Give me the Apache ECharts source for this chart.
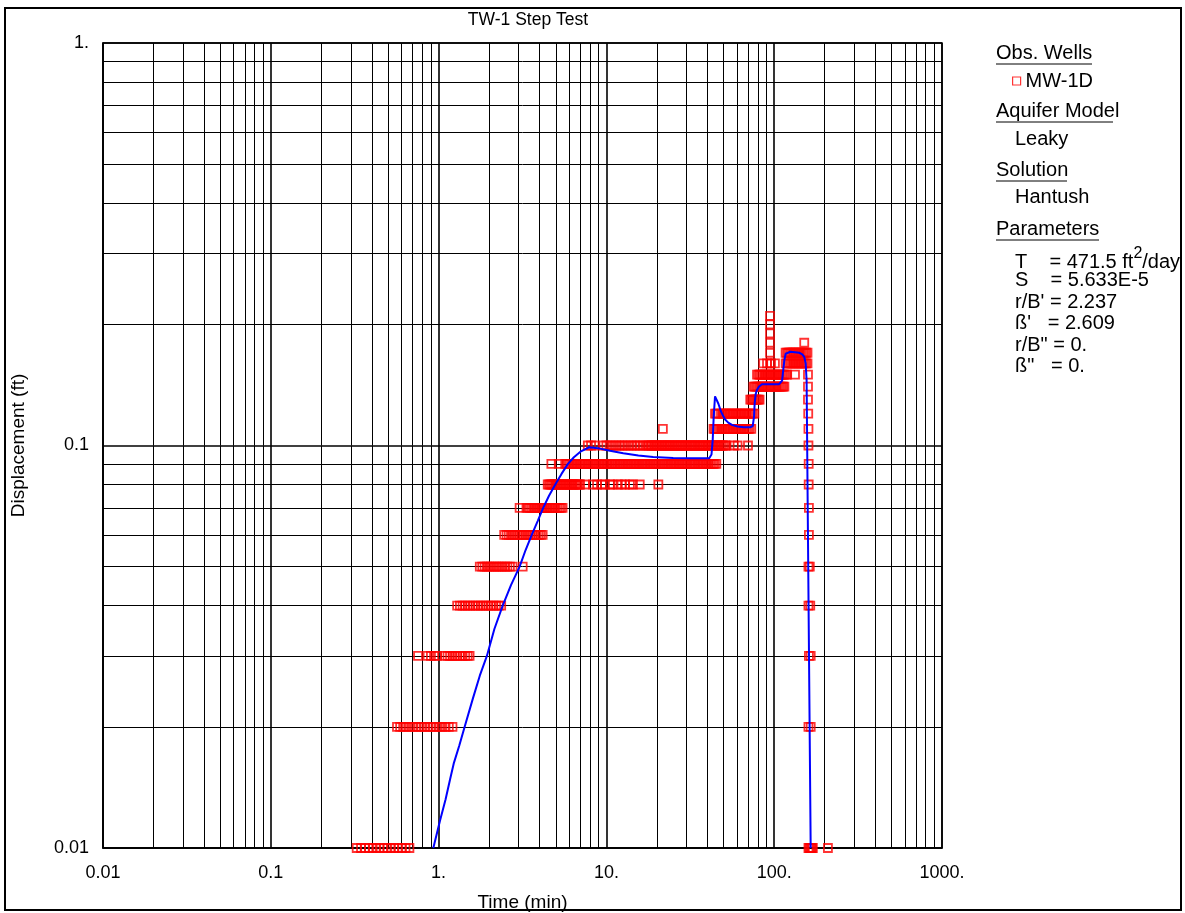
<!DOCTYPE html>
<html><head><meta charset="utf-8">
<script src="https://cdn.jsdelivr.net/npm/echarts@6/dist/echarts.min.js"></script>
<style>html,body{margin:0;padding:0;background:#fff}#c{width:1185px;height:913px}</style>
</head><body><div id="c"></div>
<script>
const FONT = '"Liberation Sans", Arial, Helvetica, sans-serif';

// ---- Observation well MW-1D: elapsed time (min) for each recorded displacement level (ft) ----
const t001 = [0.325,0.345,0.365,0.385,0.405,0.425,0.445,0.47,0.495,0.52,0.545,0.575,0.605,0.635,0.67,160,162,164,166,168,170,209];
const t002 = [0.565,0.59,0.615,0.64,0.67,0.70,0.73,0.76,0.79,0.825,0.86,0.895,0.93,0.97,1.01,1.05,1.10,1.15,1.21,160,165];
const t003 = [0.754,0.86,0.90,0.94,0.98,1.09,1.13,1.17,1.21,1.25,1.29,1.34,1.39,1.44,1.49,1.53,161,165];
const t004 = [1.29,1.34,1.39,1.44,1.49,1.54,1.60,1.66,1.72,1.78,1.84,1.91,1.98,2.05,2.12,2.20,2.28,2.36,160,164];
const t005 = [1.76,1.82,1.88,1.94,2.00,2.06,2.13,2.20,2.27,2.34,2.41,2.49,2.57,2.66,2.76,3.17,160,163];
const t006 = [2.46,2.54,2.62,2.70,2.78,2.86,2.95,3.04,3.13,3.22,3.32,3.42,3.52,3.63,3.74,3.85,3.96,4.07,4.17,161];
const t007 = [3.04,3.34,3.42,3.50,3.58,3.66,3.74,3.82,3.91,4.00,4.09,4.18,4.27,4.37,4.47,4.57,4.67,4.78,4.89,5.00,5.12,5.24,5.36,5.48,161];
const t008 = [4.47,4.56,4.65,4.74,4.84,4.94,5.04,5.14,5.25,5.36,5.47,5.58,5.70,5.82,5.94,6.06,6.19,6.32,6.45,6.58,6.72,6.86,6.97,
  7.46,8.32,8.8,9.4,9.8,10.5,10.85,11.7,12.3,12.9,13.8,14.4,15.8,20.4,160.5];
const t009 = [4.7,5.2,5.68,5.80,5.92,6.05,6.18,6.32,6.46,6.60,6.75,6.90,7.05,7.20,7.36,7.52,7.69,7.86,8.03,8.21,8.39,8.58,8.77,8.96,
  9.16,9.36,9.57,9.78,10.0,10.2,10.45,10.7,10.9,11.15,11.4,11.65,11.9,12.15,12.4,12.7,13.0,13.3,13.6,13.9,14.2,14.5,14.8,15.1,
  15.45,15.8,16.15,16.5,16.85,17.2,17.6,18.0,18.4,18.8,19.2,19.6,20.0,20.5,21.0,21.5,22.0,22.5,23.0,23.5,24.0,24.5,25.0,25.6,
  26.2,26.8,27.4,28.0,28.6,29.2,29.8,30.5,31.2,31.9,32.6,33.3,34.0,34.8,35.6,36.4,37.2,38.0,38.8,39.7,40.6,41.5,42.4,43.3,44.2,
  45.2,160.5];
const t010 = [7.75,8.1,8.5,9.6,10.0,10.45,10.9,11.4,11.9,12.4,12.9,13.5,14.1,14.7,15.3,15.9,16.6,17.4,17.8,18.2,18.6,19.0,19.4,
  19.8,20.2,20.7,21.2,21.7,22.2,22.7,23.2,23.7,24.2,24.8,25.4,26.0,26.6,27.2,27.8,28.4,29.1,29.8,30.5,31.2,31.9,32.6,33.3,34.1,
  34.9,35.7,36.5,37.3,38.1,39.0,39.9,40.8,41.7,42.6,43.6,44.6,45.6,46.6,47.6,48.7,49.8,50.9,52.0,57.5,60.5,69.8,160];
const t011 = [21.7,43.5,44.4,45.3,46.2,47.2,48.2,49.3,50.4,51.5,52.6,53.8,55.0,56.2,57.4,58.7,60.0,61.3,62.6,64.0,65.4,66.8,68.3,
  69.8,71.3,73.0,160];
const t012 = [44.4,45.2,46.6,48.2,49.3,50.4,51.5,52.6,53.8,55.0,56.2,57.4,58.7,60.0,61.3,62.6,64.0,65.4,66.8,68.3,69.8,71.3,72.9,
  74.5,76.2,159.5];
const t013 = [72.0,73.2,74.4,75.6,76.8,78.0,79.3,80.6,81.8,159];
const t014 = [75.2,76.7,78.2,79.7,81.3,82.9,84.5,86.2,87.9,89.6,91.4,93.2,95.0,96.9,98.8,100.7,102.7,104.7,106.8,108.9,111.0,
  113.0,115.0,159];
const t015 = [79.0,80.6,82.2,83.8,85.5,87.2,88.9,90.7,92.5,94.3,96.2,98.1,100.0,102.0,104.0,106.1,108.2,110.4,112.6,114.8,117.1,
  119.5,133,159];
const t016 = [86.0,90.6,94.4,95.7,101,117,119.5,122,124.5,127,129.5,132,134.7,137.4,140.2,143,145.9,148.8,151.8,154.8,157.9];
const t017 = [94.4,117,119.5,122,124.5,127,129.5,132,134.7,137.4,140.2,143,145.9,148.8,151.8,154.8,157.9];
const t018 = [94.4,151];
const t019 = [94.4];
const t020 = [94.4];
const t021 = [94.4];

const obsLevels = [0.01,0.02,0.03,0.04,0.05,0.06,0.07,0.08,0.09,0.10,0.11,0.12,0.13,0.14,0.15,0.16,0.17,0.18,0.19,0.20,0.21];
const obsTimes  = [t001,t002,t003,t004,t005,t006,t007,t008,t009,t010,t011,t012,t013,t014,t015,t016,t017,t018,t019,t020,t021];

// ---- Hantush leaky-aquifer type curve ----
const hantushT = [0.93,1.02,1.1,1.17,1.23,1.33,1.43,1.6,1.76,1.94,2.15,2.41,2.7,3.04,3.3,3.59,3.9,4.2,4.55,4.96,5.4,5.9,6.4,7.0,
  7.9,8.9,10.5,12.6,15.5,19,25,32,41,42.3,43.0,43.6,44.4,45.2,46.5,48,49.3,51,53.2,56,60.4,66,72,74.5,75.8,76.5,77.5,78.7,81,
  84.5,95,107,109.5,111.5,113,115,117,120,125,133,141,147,151,154,156,165];
const hantushV = [0.01,0.0117,0.0132,0.0148,0.0162,0.018,0.02,0.0235,0.0268,0.03,0.035,0.04,0.045,0.05,0.055,0.06,0.065,0.07,
  0.075,0.08,0.085,0.09,0.0935,0.0965,0.099,0.0985,0.097,0.0957,0.0945,0.0936,0.0931,0.093,0.093,0.095,0.103,0.118,0.1325,
  0.1315,0.127,0.122,0.119,0.116,0.114,0.1125,0.1115,0.111,0.111,0.1118,0.118,0.1273,0.134,0.137,0.140,0.142,0.142,0.142,
  0.1425,0.145,0.153,0.163,0.169,0.1706,0.171,0.1705,0.170,0.1685,0.166,0.16,0.145,0.01];

// ---- axis ticks ----
const xTicks = [0.01,0.1,1,10,100,1000];
const xTickLabels = ['0.01','0.1','1.','10.','100.','1000.'];
const yTicks = [0.01,0.1,1];
const yTickLabels = ['0.01','0.1','1.'];
const minorMult = [2,3,4,5,6,7,8,9];

// ---- legend text ----
const titleText = 'TW-1 Step Test';
const paramRows = ['T    = 471.5 ft', 'S    = 5.633E-5', "r/B' = 2.237", "\u00DF'   = 2.609", 'r/B" = 0.', '\u00DF"   = 0.'];

const obsData = [];
obsLevels.forEach((v, i) => obsTimes[i].forEach(t => obsData.push([t, v])));
const curve = hantushT.map((t, i) => [t, hantushV[i]]);

function labeler(ticks, labels) {
  return v => {
    for (let i = 0; i < ticks.length; i++)
      if (Math.abs(Math.log10(v) - Math.log10(ticks[i])) < 1e-6) return labels[i];
    return '';
  };
}
const xMinor = [], yMinor = [];
xTicks.slice(0, -1).forEach(d => minorMult.forEach(m => xMinor.push(+(d * m).toPrecision(3))));
yTicks.slice(0, -1).forEach(d => minorMult.forEach(m => yMinor.push(+(d * m).toPrecision(3))));

const G = {left: 103, right: 942, top: 43, bottom: 848};
const LF = 20;
const txt = (x, y, s, size, align) => ({
  type: 'text', x: x, y: y, silent: true,
  style: {text: s, fontSize: size, fontFamily: FONT, fill: '#000', align: align || 'left', verticalAlign: 'middle'}
});
const uline = (x1, x2, y) => ({type: 'line', silent: true, shape: {x1: x1, y1: y, x2: x2, y2: y}, style: {stroke: '#000', lineWidth: 1}});

const graphics = [
  {type: 'rect', silent: true, z: -10, shape: {x: 5, y: 8, width: 1176, height: 902}, style: {fill: 'none', stroke: '#000', lineWidth: 2}},
  txt(528, 20, titleText, 17.5, 'center'),
  txt(996, 53, 'Obs. Wells', LF), uline(996, 1092, 64),
  txt(996, 111, 'Aquifer Model', LF), uline(996, 1113, 122),
  txt(1015, 139, 'Leaky', LF),
  txt(996, 170, 'Solution', LF), uline(996, 1067, 181),
  txt(1015, 197, 'Hantush', LF),
  txt(996, 229, 'Parameters', LF), uline(996, 1099, 240)
];
paramRows.forEach((row, i) => {
  const y = 259 + i * 21.5;
  if (i === 0) {
    graphics.push({type: 'text', x: 1015, y: y, silent: true, style: {
      text: '{a|' + row + '}{s|2}{a|/day}', align: 'left', verticalAlign: 'middle',
      rich: {a: {fontSize: LF, fontFamily: FONT, fill: '#000', verticalAlign: 'bottom', lineHeight: 26},
             s: {fontSize: 16, fontFamily: FONT, fill: '#000', verticalAlign: 'top', lineHeight: 26}}}});
  } else {
    graphics.push(txt(1015, y, row, LF));
  }
});

const chart = echarts.init(document.getElementById('c'), null, {renderer: 'canvas'});
chart.setOption({
  animation: false,
  backgroundColor: '#fff',
  grid: {left: G.left, top: G.top, width: G.right - G.left, height: G.bottom - G.top, show: true,
         borderColor: '#000', borderWidth: 1.5, backgroundColor: 'rgba(0,0,0,0)', containLabel: false, outerBoundsMode: 'none'},
  legend: {
    data: [{name: 'MW-1D', icon: 'rect'}], left: 1007, top: 66, orient: 'vertical',
    itemWidth: 8, itemHeight: 8, selectedMode: false,
    itemStyle: {color: 'rgba(255,255,255,0)', borderColor: '#ff0000', borderWidth: 1.2},
    textStyle: {fontSize: LF, fontFamily: FONT, color: '#000'}
  },
  xAxis: {
    type: 'log', logBase: 10, min: 0.01, max: 1000, splitNumber: 5,
    name: 'Time (min)', nameLocation: 'middle', nameGap: 45,
    nameTextStyle: {fontSize: 19, fontFamily: FONT, color: '#000'},
    axisLine: {show: true, lineStyle: {color: '#000', width: 1.5}},
    axisTick: {show: false},
    axisLabel: {fontSize: 18, fontFamily: FONT, color: '#000', margin: 16, showMinLabel: true, showMaxLabel: true,
                formatter: labeler(xTicks, xTickLabels)},
    splitLine: {show: true, lineStyle: {color: '#000', width: 1.6}}
  },
  yAxis: {
    type: 'log', logBase: 10, min: 0.01, max: 1, splitNumber: 2,
    name: 'Displacement (ft)', nameLocation: 'middle', nameGap: 75, nameRotate: 90,
    nameTextStyle: {fontSize: 19, fontFamily: FONT, color: '#000'},
    axisLine: {show: true, lineStyle: {color: '#000', width: 1.5}},
    axisTick: {show: false},
    axisLabel: {fontSize: 18, fontFamily: FONT, color: '#000', margin: 14, showMinLabel: true, showMaxLabel: true,
                formatter: labeler(yTicks, yTickLabels)},
    splitLine: {show: true, lineStyle: {color: '#000', width: 1.6}}
  },
  series: [
    {type: 'line', name: 'grid', data: [], z: 1, silent: true,
     markLine: {z: 1, silent: true, symbol: ['none', 'none'], animation: false, label: {show: false},
                lineStyle: {color: '#000', width: 1, type: 'solid'}, emphasis: {disabled: true},
                data: xMinor.map(x => ({xAxis: x})).concat(yMinor.map(y => ({yAxis: y})))}},
    {type: 'scatter', name: 'MW-1D', data: obsData, symbol: 'rect', symbolSize: 8, z: 2, silent: true,
     itemStyle: {color: 'rgba(255,255,255,0)', borderColor: '#ff0000', borderWidth: 1.8}},
    {type: 'line', name: 'Hantush', data: curve, symbol: 'none', showSymbol: false, z: 3, silent: true,
     lineStyle: {color: '#0000ff', width: 2}}
  ],
  graphic: graphics
});
</script></body></html>
